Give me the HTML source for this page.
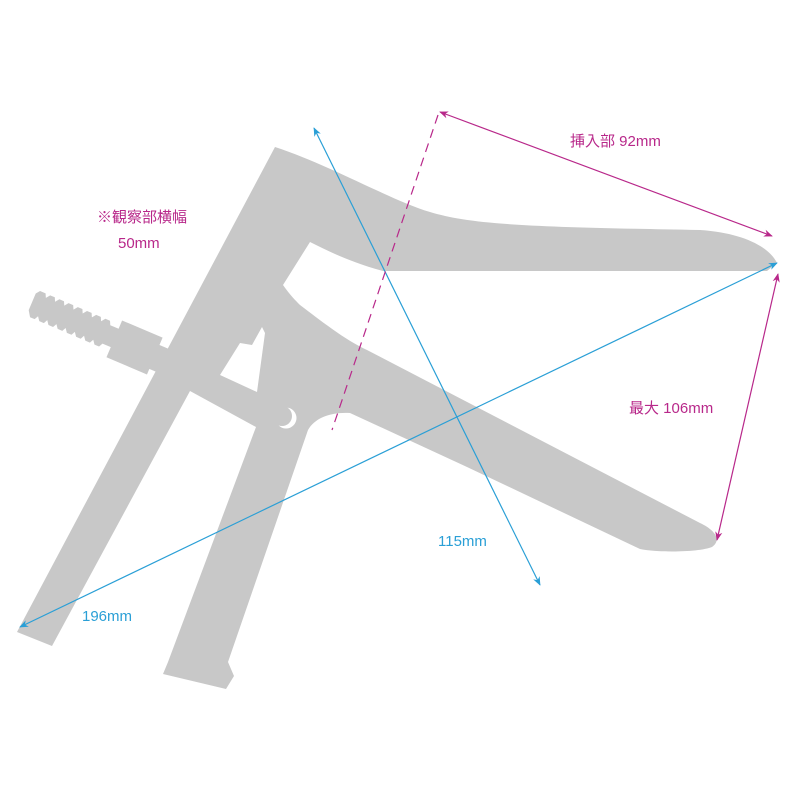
<!DOCTYPE html>
<html><head><meta charset="utf-8"><style>
html,body{margin:0;padding:0;background:#fff;}
svg{display:block;}
text{font-family:"Liberation Sans","Noto Sans CJK JP",sans-serif;}
</style></head><body>
<svg width="800" height="800" viewBox="0 0 800 800" xmlns="http://www.w3.org/2000/svg">
<defs>
<marker id="mb" viewBox="0 0 10 10" refX="9" refY="5" markerWidth="9" markerHeight="9" orient="auto-start-reverse" markerUnits="userSpaceOnUse"><path d="M0,1 L10,5 L0,9 L3,5 Z" fill="#2a9fd6"/></marker>
<marker id="mm" viewBox="0 0 10 10" refX="9" refY="5" markerWidth="9" markerHeight="9" orient="auto-start-reverse" markerUnits="userSpaceOnUse"><path d="M0,1 L10,5 L0,9 L3,5 Z" fill="#b8288a"/></marker>
</defs>
<g fill="#c8c8c8">
<path d="M275,147 C330,165 390,200 430,212 C470,224 520,227 700,230 C745,233 770,248 777,263 L767,271 L383,271 C350,262 330,252 310,242 L283,285 C290,295 295,300 300,305 C320,320 345,340 367,350 L700,523 C715,530 722,540 712,547 C700,552 660,553 640,549 L467,467 L350,413 C330,412 315,418 308,430 L228,662 L234,676 L226,689 L163,674 L168,662 L256,427 L190,391 L52,646 L17,632 Z"/>
<g transform="translate(33,300) rotate(23)">
<path d="M0,-7 L3,-11 L9,-11 L11,-7 L14,-11 L19,-11 L21,-7 L24,-11 L29,-11 L31,-7 L34,-11 L39,-11 L41,-7 L44,-11 L49,-11 L51,-7 L54,-11 L59,-11 L61,-7 L64,-11 L69,-11 L71,-7 L74,-11 L79,-11 L81,-7 L92,-7 L92,13 L81,13 L79,17 L74,17 L71,13 L69,17 L64,17 L61,13 L59,17 L54,17 L51,13 L49,17 L44,17 L41,13 L39,17 L34,17 L31,13 L29,17 L24,17 L21,13 L19,17 L14,17 L11,13 L9,17 L4,17 L0,11 Z"/>
<rect x="90" y="-16" width="44" height="40"/>
<rect x="120" y="-8" width="30" height="26"/>
</g>
</g>
<path d="M220,375 L240,343 L252,345 L262,327 L265,333 L257,392 Z" fill="#fff"/>
<circle cx="286" cy="418" r="10.5" fill="#fff"/>
<circle cx="282" cy="416" r="10" fill="#c8c8c8"/>
<line x1="20" y1="627" x2="777" y2="263" stroke="#2a9fd6" stroke-width="1.2" marker-start="url(#mb)" marker-end="url(#mb)"/>
<line x1="314" y1="128" x2="540" y2="585" stroke="#2a9fd6" stroke-width="1.2" marker-start="url(#mb)" marker-end="url(#mb)"/>
<line x1="440" y1="112" x2="772" y2="236" stroke="#b8288a" stroke-width="1.2" marker-start="url(#mm)" marker-end="url(#mm)"/>
<line x1="778" y1="274" x2="717" y2="540" stroke="#b8288a" stroke-width="1.2" marker-start="url(#mm)" marker-end="url(#mm)"/>
<line x1="438" y1="115" x2="332" y2="430" stroke="#b8288a" stroke-width="1.2" stroke-dasharray="9,6"/>
<g font-size="15" fill="#b8288a">
<text x="570" y="146">挿入部 92mm</text>
<text x="629" y="413">最大 106mm</text>
<text x="97" y="222">※観察部横幅</text>
<text x="118" y="248">50mm</text>
</g>
<g font-size="15" fill="#2a9fd6">
<text x="438" y="546">115mm</text>
<text x="82" y="621">196mm</text>
</g>
</svg>
</body></html>
